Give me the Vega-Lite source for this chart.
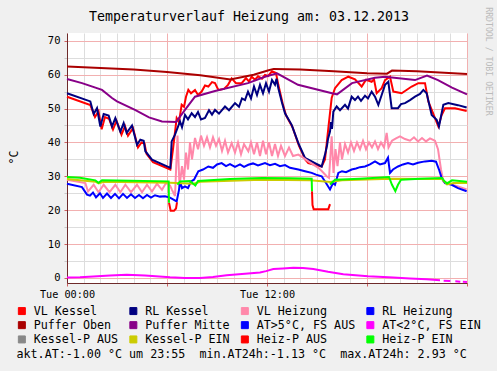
{
"$schema": "https://vega.github.io/schema/vega-lite/v6.json",
"width": 400, "height": 250,
"autosize": {"type": "none"},
"padding": {"left": 67, "top": 33, "right": 30, "bottom": 88},
"background": "#f0f0f0",
"view": {"fill": "white", "stroke": null},
"title": {"text": "Temperaturverlauf Heizung am: 03.12.2013", "font": "DejaVu Sans Mono", "fontSize": 13.3, "fontWeight": "normal", "color": "black", "anchor": "middle", "frame": "group", "dx": -18, "dy": 40.3, "offset": 9.5, "baseline": "bottom"},
"layer": [
{
"data": {"values": [
{"s":"VL Kessel","g":"a","h":0,"v":53.5},{"s":"VL Kessel","g":"a","h":1.4,"v":51.0},{"s":"VL Kessel","g":"a","h":1.68,"v":47.5},{"s":"VL Kessel","g":"a","h":1.89,"v":49.2},{"s":"VL Kessel","g":"a","h":2.08,"v":43.9},{"s":"VL Kessel","g":"a","h":2.28,"v":47.5},{"s":"VL Kessel","g":"a","h":2.52,"v":47.0},{"s":"VL Kessel","g":"a","h":2.76,"v":43.8},{"s":"VL Kessel","g":"a","h":2.97,"v":46.4},{"s":"VL Kessel","g":"a","h":3.27,"v":42.3},{"s":"VL Kessel","g":"a","h":3.48,"v":44.8},{"s":"VL Kessel","g":"a","h":3.66,"v":42.0},{"s":"VL Kessel","g":"a","h":3.96,"v":44.2},{"s":"VL Kessel","g":"a","h":4.26,"v":38.5},{"s":"VL Kessel","g":"a","h":4.47,"v":40.0},{"s":"VL Kessel","g":"a","h":4.65,"v":39.7},{"s":"VL Kessel","g":"a","h":4.77,"v":36.6},{"s":"VL Kessel","g":"a","h":5.16,"v":34.2},{"s":"VL Kessel","g":"a","h":6.2,"v":32.0},{"s":"VL Kessel","g":"a","h":6.36,"v":38.0},{"s":"VL Kessel","g":"a","h":6.58,"v":47.2},{"s":"VL Kessel","g":"a","h":6.72,"v":46.0},{"s":"VL Kessel","g":"a","h":6.88,"v":51.1},{"s":"VL Kessel","g":"a","h":7.02,"v":50.5},{"s":"VL Kessel","g":"a","h":7.14,"v":53.5},{"s":"VL Kessel","g":"a","h":7.28,"v":55.5},{"s":"VL Kessel","g":"a","h":7.44,"v":54.5},{"s":"VL Kessel","g":"a","h":7.68,"v":55.5},{"s":"VL Kessel","g":"a","h":7.86,"v":54.0},{"s":"VL Kessel","g":"a","h":8.08,"v":55.0},{"s":"VL Kessel","g":"a","h":8.28,"v":56.8},{"s":"VL Kessel","g":"a","h":8.48,"v":56.5},{"s":"VL Kessel","g":"a","h":8.7,"v":57.8},{"s":"VL Kessel","g":"a","h":8.88,"v":57.5},{"s":"VL Kessel","g":"a","h":9.08,"v":55.5},{"s":"VL Kessel","g":"a","h":9.42,"v":55.8},{"s":"VL Kessel","g":"a","h":9.66,"v":57.0},{"s":"VL Kessel","g":"a","h":9.88,"v":58.9},{"s":"VL Kessel","g":"a","h":10.14,"v":57.5},{"s":"VL Kessel","g":"a","h":10.48,"v":57.5},{"s":"VL Kessel","g":"a","h":10.74,"v":59.0},{"s":"VL Kessel","g":"a","h":10.92,"v":58.0},{"s":"VL Kessel","g":"a","h":11.08,"v":59.4},{"s":"VL Kessel","g":"a","h":11.28,"v":58.5},{"s":"VL Kessel","g":"a","h":11.46,"v":59.5},{"s":"VL Kessel","g":"a","h":11.7,"v":58.8},{"s":"VL Kessel","g":"a","h":11.88,"v":59.9},{"s":"VL Kessel","g":"a","h":12.06,"v":59.6},{"s":"VL Kessel","g":"a","h":12.3,"v":61.0},{"s":"VL Kessel","g":"a","h":12.54,"v":60.5},{"s":"VL Kessel","g":"a","h":12.68,"v":57.0},{"s":"VL Kessel","g":"a","h":12.94,"v":51.5},{"s":"VL Kessel","g":"a","h":13.14,"v":48.0},{"s":"VL Kessel","g":"a","h":13.53,"v":44.5},{"s":"VL Kessel","g":"a","h":13.92,"v":39.0},{"s":"VL Kessel","g":"a","h":14.31,"v":34.8},{"s":"VL Kessel","g":"a","h":14.48,"v":33.9},{"s":"VL Kessel","g":"a","h":15.28,"v":32.9},{"s":"VL Kessel","g":"a","h":15.48,"v":35.0},{"s":"VL Kessel","g":"a","h":15.68,"v":44.2},{"s":"VL Kessel","g":"a","h":15.88,"v":53.1},{"s":"VL Kessel","g":"a","h":16.08,"v":56.0},{"s":"VL Kessel","g":"a","h":16.48,"v":58.4},{"s":"VL Kessel","g":"a","h":16.88,"v":59.4},{"s":"VL Kessel","g":"a","h":17.28,"v":58.6},{"s":"VL Kessel","g":"a","h":17.68,"v":56.5},{"s":"VL Kessel","g":"a","h":17.94,"v":58.5},{"s":"VL Kessel","g":"a","h":18.28,"v":57.9},{"s":"VL Kessel","g":"a","h":18.42,"v":58.6},{"s":"VL Kessel","g":"a","h":18.58,"v":54.5},{"s":"VL Kessel","g":"a","h":18.88,"v":56.0},{"s":"VL Kessel","g":"a","h":19.08,"v":58.4},{"s":"VL Kessel","g":"a","h":19.38,"v":59.4},{"s":"VL Kessel","g":"a","h":19.58,"v":55.0},{"s":"VL Kessel","g":"a","h":20.08,"v":54.5},{"s":"VL Kessel","g":"a","h":20.68,"v":56.5},{"s":"VL Kessel","g":"a","h":21.08,"v":57.5},{"s":"VL Kessel","g":"a","h":21.48,"v":57.5},{"s":"VL Kessel","g":"a","h":21.68,"v":52.1},{"s":"VL Kessel","g":"a","h":22.08,"v":47.2},{"s":"VL Kessel","g":"a","h":22.28,"v":44.7},{"s":"VL Kessel","g":"a","h":22.48,"v":48.1},{"s":"VL Kessel","g":"a","h":22.68,"v":50.1},{"s":"VL Kessel","g":"a","h":23.28,"v":50.1},{"s":"VL Kessel","g":"a","h":23.98,"v":49.3},
{"s":"RL Kessel","g":"a","h":0,"v":54.5},{"s":"RL Kessel","g":"a","h":1.4,"v":52.1},{"s":"RL Kessel","g":"a","h":1.6,"v":48.4},{"s":"RL Kessel","g":"a","h":1.8,"v":50.1},{"s":"RL Kessel","g":"a","h":2.0,"v":44.7},{"s":"RL Kessel","g":"a","h":2.2,"v":48.4},{"s":"RL Kessel","g":"a","h":2.5,"v":47.9},{"s":"RL Kessel","g":"a","h":2.7,"v":44.7},{"s":"RL Kessel","g":"a","h":2.9,"v":47.2},{"s":"RL Kessel","g":"a","h":3.2,"v":43.2},{"s":"RL Kessel","g":"a","h":3.4,"v":45.7},{"s":"RL Kessel","g":"a","h":3.58,"v":42.8},{"s":"RL Kessel","g":"a","h":3.9,"v":45.0},{"s":"RL Kessel","g":"a","h":4.2,"v":39.3},{"s":"RL Kessel","g":"a","h":4.4,"v":40.8},{"s":"RL Kessel","g":"a","h":4.6,"v":40.5},{"s":"RL Kessel","g":"a","h":4.7,"v":37.4},{"s":"RL Kessel","g":"a","h":5.1,"v":34.9},{"s":"RL Kessel","g":"a","h":6.2,"v":32.5},{"s":"RL Kessel","g":"a","h":6.28,"v":40.3},{"s":"RL Kessel","g":"a","h":6.48,"v":42.3},{"s":"RL Kessel","g":"a","h":6.78,"v":46.2},{"s":"RL Kessel","g":"a","h":6.9,"v":44.5},{"s":"RL Kessel","g":"a","h":7.08,"v":48.1},{"s":"RL Kessel","g":"a","h":7.26,"v":46.8},{"s":"RL Kessel","g":"a","h":7.48,"v":48.6},{"s":"RL Kessel","g":"a","h":7.68,"v":47.5},{"s":"RL Kessel","g":"a","h":7.86,"v":49.0},{"s":"RL Kessel","g":"a","h":8.04,"v":46.8},{"s":"RL Kessel","g":"a","h":8.28,"v":47.2},{"s":"RL Kessel","g":"a","h":8.52,"v":49.5},{"s":"RL Kessel","g":"a","h":8.7,"v":48.2},{"s":"RL Kessel","g":"a","h":8.88,"v":49.6},{"s":"RL Kessel","g":"a","h":9.12,"v":48.5},{"s":"RL Kessel","g":"a","h":9.48,"v":50.6},{"s":"RL Kessel","g":"a","h":9.72,"v":49.5},{"s":"RL Kessel","g":"a","h":10.08,"v":51.6},{"s":"RL Kessel","g":"a","h":10.32,"v":50.5},{"s":"RL Kessel","g":"a","h":10.5,"v":53.0},{"s":"RL Kessel","g":"a","h":10.68,"v":52.5},{"s":"RL Kessel","g":"a","h":10.86,"v":55.0},{"s":"RL Kessel","g":"a","h":11.04,"v":53.0},{"s":"RL Kessel","g":"a","h":11.22,"v":56.5},{"s":"RL Kessel","g":"a","h":11.4,"v":54.0},{"s":"RL Kessel","g":"a","h":11.58,"v":57.0},{"s":"RL Kessel","g":"a","h":11.76,"v":54.5},{"s":"RL Kessel","g":"a","h":11.94,"v":57.5},{"s":"RL Kessel","g":"a","h":12.12,"v":55.0},{"s":"RL Kessel","g":"a","h":12.3,"v":58.4},{"s":"RL Kessel","g":"a","h":12.48,"v":57.0},{"s":"RL Kessel","g":"a","h":12.57,"v":58.8},{"s":"RL Kessel","g":"a","h":12.68,"v":56.0},{"s":"RL Kessel","g":"a","h":12.88,"v":52.1},{"s":"RL Kessel","g":"a","h":13.08,"v":48.6},{"s":"RL Kessel","g":"a","h":13.48,"v":45.2},{"s":"RL Kessel","g":"a","h":13.88,"v":39.8},{"s":"RL Kessel","g":"a","h":14.28,"v":35.4},{"s":"RL Kessel","g":"a","h":14.88,"v":33.9},{"s":"RL Kessel","g":"a","h":15.28,"v":32.9},{"s":"RL Kessel","g":"a","h":15.48,"v":36.4},{"s":"RL Kessel","g":"a","h":15.6,"v":39.0},{"s":"RL Kessel","g":"a","h":15.66,"v":41.0},{"s":"RL Kessel","g":"a","h":15.78,"v":43.2},{"s":"RL Kessel","g":"a","h":15.84,"v":46.0},{"s":"RL Kessel","g":"a","h":15.9,"v":44.0},{"s":"RL Kessel","g":"a","h":15.98,"v":49.1},{"s":"RL Kessel","g":"a","h":16.18,"v":50.6},{"s":"RL Kessel","g":"a","h":16.38,"v":49.5},{"s":"RL Kessel","g":"a","h":16.68,"v":51.1},{"s":"RL Kessel","g":"a","h":16.86,"v":50.0},{"s":"RL Kessel","g":"a","h":17.08,"v":53.5},{"s":"RL Kessel","g":"a","h":17.28,"v":52.5},{"s":"RL Kessel","g":"a","h":17.46,"v":53.5},{"s":"RL Kessel","g":"a","h":17.64,"v":52.3},{"s":"RL Kessel","g":"a","h":17.88,"v":53.8},{"s":"RL Kessel","g":"a","h":18.06,"v":53.0},{"s":"RL Kessel","g":"a","h":18.28,"v":55.0},{"s":"RL Kessel","g":"a","h":18.48,"v":53.5},{"s":"RL Kessel","g":"a","h":18.68,"v":51.1},{"s":"RL Kessel","g":"a","h":18.88,"v":54.0},{"s":"RL Kessel","g":"a","h":19.08,"v":57.0},{"s":"RL Kessel","g":"a","h":19.28,"v":57.9},{"s":"RL Kessel","g":"a","h":19.48,"v":50.1},{"s":"RL Kessel","g":"a","h":19.86,"v":50.1},{"s":"RL Kessel","g":"a","h":20.04,"v":51.3},{"s":"RL Kessel","g":"a","h":20.28,"v":51.6},{"s":"RL Kessel","g":"a","h":20.58,"v":52.5},{"s":"RL Kessel","g":"a","h":20.88,"v":53.5},{"s":"RL Kessel","g":"a","h":21.18,"v":54.3},{"s":"RL Kessel","g":"a","h":21.38,"v":55.5},{"s":"RL Kessel","g":"a","h":21.58,"v":54.5},{"s":"RL Kessel","g":"a","h":21.88,"v":48.1},{"s":"RL Kessel","g":"a","h":22.18,"v":46.7},{"s":"RL Kessel","g":"a","h":22.32,"v":44.7},{"s":"RL Kessel","g":"a","h":22.58,"v":51.1},{"s":"RL Kessel","g":"a","h":22.88,"v":51.6},{"s":"RL Kessel","g":"a","h":23.46,"v":51.0},{"s":"RL Kessel","g":"a","h":23.98,"v":50.3},
{"s":"VL Heizung","g":"a","h":0,"v":29.0},{"s":"VL Heizung","g":"a","h":1.1,"v":28.0},{"s":"VL Heizung","g":"a","h":1.26,"v":25.5},{"s":"VL Heizung","g":"a","h":1.6,"v":27.5},{"s":"VL Heizung","g":"a","h":1.89,"v":25.3},{"s":"VL Heizung","g":"a","h":2.2,"v":27.5},{"s":"VL Heizung","g":"a","h":2.55,"v":25.3},{"s":"VL Heizung","g":"a","h":2.9,"v":27.5},{"s":"VL Heizung","g":"a","h":3.2,"v":25.3},{"s":"VL Heizung","g":"a","h":3.5,"v":27.5},{"s":"VL Heizung","g":"a","h":3.84,"v":25.3},{"s":"VL Heizung","g":"a","h":4.2,"v":27.5},{"s":"VL Heizung","g":"a","h":4.5,"v":25.3},{"s":"VL Heizung","g":"a","h":4.8,"v":27.5},{"s":"VL Heizung","g":"a","h":5.1,"v":25.5},{"s":"VL Heizung","g":"a","h":5.4,"v":27.8},{"s":"VL Heizung","g":"a","h":5.7,"v":26.0},{"s":"VL Heizung","g":"a","h":5.94,"v":28.0},{"s":"VL Heizung","g":"a","h":6.18,"v":27.3},{"s":"VL Heizung","g":"a","h":6.3,"v":26.0},{"s":"VL Heizung","g":"a","h":6.48,"v":24.2},{"s":"VL Heizung","g":"a","h":6.63,"v":42.0},{"s":"VL Heizung","g":"a","h":6.75,"v":27.0},{"s":"VL Heizung","g":"a","h":6.9,"v":33.0},{"s":"VL Heizung","g":"a","h":7.02,"v":29.0},{"s":"VL Heizung","g":"a","h":7.14,"v":37.0},{"s":"VL Heizung","g":"a","h":7.26,"v":32.0},{"s":"VL Heizung","g":"a","h":7.38,"v":40.0},{"s":"VL Heizung","g":"a","h":7.5,"v":35.0},{"s":"VL Heizung","g":"a","h":7.68,"v":41.3},{"s":"VL Heizung","g":"a","h":7.86,"v":38.0},{"s":"VL Heizung","g":"a","h":8.04,"v":42.0},{"s":"VL Heizung","g":"a","h":8.22,"v":39.0},{"s":"VL Heizung","g":"a","h":8.4,"v":41.5},{"s":"VL Heizung","g":"a","h":8.58,"v":38.5},{"s":"VL Heizung","g":"a","h":8.76,"v":41.5},{"s":"VL Heizung","g":"a","h":8.94,"v":39.0},{"s":"VL Heizung","g":"a","h":9.12,"v":41.0},{"s":"VL Heizung","g":"a","h":9.3,"v":37.5},{"s":"VL Heizung","g":"a","h":9.48,"v":40.5},{"s":"VL Heizung","g":"a","h":9.66,"v":37.0},{"s":"VL Heizung","g":"a","h":9.88,"v":39.8},{"s":"VL Heizung","g":"a","h":10.08,"v":37.0},{"s":"VL Heizung","g":"a","h":10.26,"v":40.0},{"s":"VL Heizung","g":"a","h":10.44,"v":36.5},{"s":"VL Heizung","g":"a","h":10.62,"v":39.5},{"s":"VL Heizung","g":"a","h":10.88,"v":37.4},{"s":"VL Heizung","g":"a","h":11.04,"v":40.0},{"s":"VL Heizung","g":"a","h":11.22,"v":36.5},{"s":"VL Heizung","g":"a","h":11.4,"v":40.0},{"s":"VL Heizung","g":"a","h":11.58,"v":36.0},{"s":"VL Heizung","g":"a","h":11.76,"v":40.5},{"s":"VL Heizung","g":"a","h":11.94,"v":36.5},{"s":"VL Heizung","g":"a","h":12.12,"v":40.0},{"s":"VL Heizung","g":"a","h":12.3,"v":36.0},{"s":"VL Heizung","g":"a","h":12.48,"v":39.5},{"s":"VL Heizung","g":"a","h":12.66,"v":36.0},{"s":"VL Heizung","g":"a","h":12.84,"v":39.0},{"s":"VL Heizung","g":"a","h":13.08,"v":36.0},{"s":"VL Heizung","g":"a","h":13.32,"v":38.5},{"s":"VL Heizung","g":"a","h":13.56,"v":36.0},{"s":"VL Heizung","g":"a","h":13.88,"v":36.4},{"s":"VL Heizung","g":"a","h":14.16,"v":35.5},{"s":"VL Heizung","g":"a","h":14.48,"v":34.4},{"s":"VL Heizung","g":"a","h":14.76,"v":33.5},{"s":"VL Heizung","g":"a","h":15.08,"v":32.5},{"s":"VL Heizung","g":"a","h":15.3,"v":31.5},{"s":"VL Heizung","g":"a","h":15.58,"v":30.0},{"s":"VL Heizung","g":"a","h":15.72,"v":29.5},{"s":"VL Heizung","g":"a","h":15.88,"v":41.8},{"s":"VL Heizung","g":"a","h":15.99,"v":31.0},{"s":"VL Heizung","g":"a","h":16.11,"v":38.0},{"s":"VL Heizung","g":"a","h":16.23,"v":33.0},{"s":"VL Heizung","g":"a","h":16.38,"v":40.0},{"s":"VL Heizung","g":"a","h":16.5,"v":35.0},{"s":"VL Heizung","g":"a","h":16.68,"v":39.5},{"s":"VL Heizung","g":"a","h":16.86,"v":37.0},{"s":"VL Heizung","g":"a","h":17.04,"v":40.0},{"s":"VL Heizung","g":"a","h":17.22,"v":37.5},{"s":"VL Heizung","g":"a","h":17.4,"v":40.0},{"s":"VL Heizung","g":"a","h":17.58,"v":38.0},{"s":"VL Heizung","g":"a","h":17.76,"v":40.5},{"s":"VL Heizung","g":"a","h":17.94,"v":38.0},{"s":"VL Heizung","g":"a","h":18.12,"v":40.0},{"s":"VL Heizung","g":"a","h":18.3,"v":38.5},{"s":"VL Heizung","g":"a","h":18.48,"v":40.3},{"s":"VL Heizung","g":"a","h":18.66,"v":38.0},{"s":"VL Heizung","g":"a","h":18.84,"v":40.0},{"s":"VL Heizung","g":"a","h":19.02,"v":38.5},{"s":"VL Heizung","g":"a","h":19.18,"v":42.8},{"s":"VL Heizung","g":"a","h":19.29,"v":38.5},{"s":"VL Heizung","g":"a","h":19.5,"v":40.5},{"s":"VL Heizung","g":"a","h":19.74,"v":41.2},{"s":"VL Heizung","g":"a","h":19.98,"v":41.8},{"s":"VL Heizung","g":"a","h":20.28,"v":41.0},{"s":"VL Heizung","g":"a","h":20.58,"v":40.5},{"s":"VL Heizung","g":"a","h":20.82,"v":41.5},{"s":"VL Heizung","g":"a","h":21.06,"v":40.3},{"s":"VL Heizung","g":"a","h":21.3,"v":41.3},{"s":"VL Heizung","g":"a","h":21.54,"v":40.3},{"s":"VL Heizung","g":"a","h":21.78,"v":41.2},{"s":"VL Heizung","g":"a","h":22.08,"v":40.5},{"s":"VL Heizung","g":"a","h":22.26,"v":38.0},{"s":"VL Heizung","g":"a","h":22.44,"v":32.0},{"s":"VL Heizung","g":"a","h":22.58,"v":28.5},{"s":"VL Heizung","g":"a","h":23.08,"v":27.6},{"s":"VL Heizung","g":"a","h":23.46,"v":27.0},{"s":"VL Heizung","g":"a","h":23.98,"v":26.1},
{"s":"RL Heizung","g":"a","h":0,"v":27.8},{"s":"RL Heizung","g":"a","h":0.9,"v":26.8},{"s":"RL Heizung","g":"a","h":1.2,"v":24.6},{"s":"RL Heizung","g":"a","h":1.38,"v":24.3},{"s":"RL Heizung","g":"a","h":1.56,"v":25.2},{"s":"RL Heizung","g":"a","h":1.74,"v":23.8},{"s":"RL Heizung","g":"a","h":1.98,"v":25.0},{"s":"RL Heizung","g":"a","h":2.16,"v":23.6},{"s":"RL Heizung","g":"a","h":2.4,"v":24.9},{"s":"RL Heizung","g":"a","h":2.64,"v":23.6},{"s":"RL Heizung","g":"a","h":2.88,"v":24.8},{"s":"RL Heizung","g":"a","h":3.12,"v":23.5},{"s":"RL Heizung","g":"a","h":3.36,"v":24.8},{"s":"RL Heizung","g":"a","h":3.6,"v":23.6},{"s":"RL Heizung","g":"a","h":3.84,"v":24.7},{"s":"RL Heizung","g":"a","h":4.08,"v":23.6},{"s":"RL Heizung","g":"a","h":4.32,"v":24.5},{"s":"RL Heizung","g":"a","h":4.56,"v":23.5},{"s":"RL Heizung","g":"a","h":4.8,"v":24.5},{"s":"RL Heizung","g":"a","h":5.04,"v":23.7},{"s":"RL Heizung","g":"a","h":5.28,"v":24.4},{"s":"RL Heizung","g":"a","h":5.58,"v":24.0},{"s":"RL Heizung","g":"a","h":5.88,"v":24.1},{"s":"RL Heizung","g":"a","h":6.18,"v":23.7},{"s":"RL Heizung","g":"a","h":6.58,"v":22.6},{"s":"RL Heizung","g":"a","h":6.72,"v":26.0},{"s":"RL Heizung","g":"a","h":6.78,"v":28.5},{"s":"RL Heizung","g":"a","h":6.9,"v":26.5},{"s":"RL Heizung","g":"a","h":7.08,"v":27.0},{"s":"RL Heizung","g":"a","h":7.26,"v":26.5},{"s":"RL Heizung","g":"a","h":7.44,"v":28.5},{"s":"RL Heizung","g":"a","h":7.62,"v":29.0},{"s":"RL Heizung","g":"a","h":7.88,"v":31.5},{"s":"RL Heizung","g":"a","h":8.16,"v":32.0},{"s":"RL Heizung","g":"a","h":8.48,"v":32.9},{"s":"RL Heizung","g":"a","h":8.76,"v":32.5},{"s":"RL Heizung","g":"a","h":9.0,"v":33.5},{"s":"RL Heizung","g":"a","h":9.28,"v":33.9},{"s":"RL Heizung","g":"a","h":9.54,"v":33.0},{"s":"RL Heizung","g":"a","h":9.78,"v":33.6},{"s":"RL Heizung","g":"a","h":10.08,"v":32.8},{"s":"RL Heizung","g":"a","h":10.38,"v":33.5},{"s":"RL Heizung","g":"a","h":10.62,"v":32.8},{"s":"RL Heizung","g":"a","h":10.88,"v":33.4},{"s":"RL Heizung","g":"a","h":11.16,"v":33.8},{"s":"RL Heizung","g":"a","h":11.46,"v":33.2},{"s":"RL Heizung","g":"a","h":11.88,"v":33.9},{"s":"RL Heizung","g":"a","h":12.18,"v":33.3},{"s":"RL Heizung","g":"a","h":12.48,"v":33.7},{"s":"RL Heizung","g":"a","h":12.78,"v":33.0},{"s":"RL Heizung","g":"a","h":13.08,"v":33.3},{"s":"RL Heizung","g":"a","h":13.38,"v":32.5},{"s":"RL Heizung","g":"a","h":13.88,"v":32.0},{"s":"RL Heizung","g":"a","h":14.28,"v":31.5},{"s":"RL Heizung","g":"a","h":14.68,"v":31.0},{"s":"RL Heizung","g":"a","h":14.94,"v":30.5},{"s":"RL Heizung","g":"a","h":15.28,"v":30.0},{"s":"RL Heizung","g":"a","h":15.54,"v":28.0},{"s":"RL Heizung","g":"a","h":15.78,"v":26.1},{"s":"RL Heizung","g":"a","h":15.96,"v":28.0},{"s":"RL Heizung","g":"a","h":16.08,"v":27.5},{"s":"RL Heizung","g":"a","h":16.28,"v":31.0},{"s":"RL Heizung","g":"a","h":16.5,"v":31.5},{"s":"RL Heizung","g":"a","h":16.74,"v":31.2},{"s":"RL Heizung","g":"a","h":17.08,"v":32.0},{"s":"RL Heizung","g":"a","h":17.34,"v":32.3},{"s":"RL Heizung","g":"a","h":17.58,"v":32.7},{"s":"RL Heizung","g":"a","h":17.88,"v":32.9},{"s":"RL Heizung","g":"a","h":18.18,"v":33.5},{"s":"RL Heizung","g":"a","h":18.48,"v":34.4},{"s":"RL Heizung","g":"a","h":18.78,"v":33.5},{"s":"RL Heizung","g":"a","h":19.08,"v":33.9},{"s":"RL Heizung","g":"a","h":19.26,"v":35.5},{"s":"RL Heizung","g":"a","h":19.38,"v":31.0},{"s":"RL Heizung","g":"a","h":19.56,"v":32.0},{"s":"RL Heizung","g":"a","h":19.86,"v":32.9},{"s":"RL Heizung","g":"a","h":20.16,"v":33.5},{"s":"RL Heizung","g":"a","h":20.46,"v":33.9},{"s":"RL Heizung","g":"a","h":20.76,"v":33.5},{"s":"RL Heizung","g":"a","h":21.06,"v":34.0},{"s":"RL Heizung","g":"a","h":21.48,"v":34.4},{"s":"RL Heizung","g":"a","h":21.88,"v":34.6},{"s":"RL Heizung","g":"a","h":22.14,"v":34.3},{"s":"RL Heizung","g":"a","h":22.32,"v":32.0},{"s":"RL Heizung","g":"a","h":22.48,"v":29.5},{"s":"RL Heizung","g":"a","h":22.68,"v":28.0},{"s":"RL Heizung","g":"a","h":23.08,"v":27.5},{"s":"RL Heizung","g":"a","h":23.46,"v":26.5},{"s":"RL Heizung","g":"a","h":23.98,"v":25.6},
{"s":"Puffer Oben","g":"a","h":0,"v":62.4},{"s":"Puffer Oben","g":"a","h":2,"v":62.0},{"s":"Puffer Oben","g":"a","h":4,"v":61.5},{"s":"Puffer Oben","g":"a","h":6,"v":60.8},{"s":"Puffer Oben","g":"a","h":8,"v":59.8},{"s":"Puffer Oben","g":"a","h":9.8,"v":58.6},{"s":"Puffer Oben","g":"a","h":11.2,"v":60.0},{"s":"Puffer Oben","g":"a","h":12.1,"v":61.3},{"s":"Puffer Oben","g":"a","h":12.4,"v":61.7},{"s":"Puffer Oben","g":"a","h":14,"v":61.5},{"s":"Puffer Oben","g":"a","h":16,"v":61.0},{"s":"Puffer Oben","g":"a","h":18,"v":60.4},{"s":"Puffer Oben","g":"a","h":19.2,"v":60.3},{"s":"Puffer Oben","g":"a","h":19.5,"v":61.2},{"s":"Puffer Oben","g":"a","h":21,"v":61.0},{"s":"Puffer Oben","g":"a","h":24,"v":60.2},
{"s":"Puffer Mitte","g":"a","h":0,"v":58.7},{"s":"Puffer Mitte","g":"a","h":0.9,"v":57.5},{"s":"Puffer Mitte","g":"a","h":2.1,"v":55.5},{"s":"Puffer Mitte","g":"a","h":2.7,"v":53.1},{"s":"Puffer Mitte","g":"a","h":3.0,"v":52.1},{"s":"Puffer Mitte","g":"a","h":4.08,"v":49.6},{"s":"Puffer Mitte","g":"a","h":4.92,"v":47.4},{"s":"Puffer Mitte","g":"a","h":5.7,"v":46.2},{"s":"Puffer Mitte","g":"a","h":6.54,"v":46.0},{"s":"Puffer Mitte","g":"a","h":7.08,"v":49.6},{"s":"Puffer Mitte","g":"a","h":7.68,"v":53.5},{"s":"Puffer Mitte","g":"a","h":8.88,"v":55.2},{"s":"Puffer Mitte","g":"a","h":10.86,"v":57.5},{"s":"Puffer Mitte","g":"a","h":11.88,"v":59.4},{"s":"Puffer Mitte","g":"a","h":12.6,"v":60.4},{"s":"Puffer Mitte","g":"a","h":13.86,"v":57.0},{"s":"Puffer Mitte","g":"a","h":15.9,"v":54.5},{"s":"Puffer Mitte","g":"a","h":16.2,"v":54.2},{"s":"Puffer Mitte","g":"a","h":17.1,"v":57.5},{"s":"Puffer Mitte","g":"a","h":18.48,"v":59.1},{"s":"Puffer Mitte","g":"a","h":19.08,"v":59.4},{"s":"Puffer Mitte","g":"a","h":20.88,"v":58.4},{"s":"Puffer Mitte","g":"a","h":21.6,"v":59.7},{"s":"Puffer Mitte","g":"a","h":22.26,"v":58.4},{"s":"Puffer Mitte","g":"a","h":23.1,"v":56.2},{"s":"Puffer Mitte","g":"a","h":24,"v":54.2},
{"s":"AT<2°C, FS EIN","g":"a","h":0,"v":0.1},{"s":"AT<2°C, FS EIN","g":"a","h":0.78,"v":0.2},{"s":"AT<2°C, FS EIN","g":"a","h":1.58,"v":0.4},{"s":"AT<2°C, FS EIN","g":"a","h":2.58,"v":0.7},{"s":"AT<2°C, FS EIN","g":"a","h":3.58,"v":0.9},{"s":"AT<2°C, FS EIN","g":"a","h":4.68,"v":0.7},{"s":"AT<2°C, FS EIN","g":"a","h":6.18,"v":0.2},{"s":"AT<2°C, FS EIN","g":"a","h":7.08,"v":0.0},{"s":"AT<2°C, FS EIN","g":"a","h":7.98,"v":0.0},{"s":"AT<2°C, FS EIN","g":"a","h":8.76,"v":0.3},{"s":"AT<2°C, FS EIN","g":"a","h":9.58,"v":0.8},{"s":"AT<2°C, FS EIN","g":"a","h":10.68,"v":1.2},{"s":"AT<2°C, FS EIN","g":"a","h":11.58,"v":1.6},{"s":"AT<2°C, FS EIN","g":"a","h":11.94,"v":2.0},{"s":"AT<2°C, FS EIN","g":"a","h":12.38,"v":2.6},{"s":"AT<2°C, FS EIN","g":"a","h":12.96,"v":2.8},{"s":"AT<2°C, FS EIN","g":"a","h":13.58,"v":3.0},{"s":"AT<2°C, FS EIN","g":"a","h":14.16,"v":2.9},{"s":"AT<2°C, FS EIN","g":"a","h":14.78,"v":2.6},{"s":"AT<2°C, FS EIN","g":"a","h":15.66,"v":1.8},{"s":"AT<2°C, FS EIN","g":"a","h":16.58,"v":1.1},{"s":"AT<2°C, FS EIN","g":"a","h":18.06,"v":0.5},{"s":"AT<2°C, FS EIN","g":"a","h":19.58,"v":0.1},{"s":"AT<2°C, FS EIN","g":"a","h":20.58,"v":-0.2},{"s":"AT<2°C, FS EIN","g":"a","h":21.58,"v":-0.4},{"s":"AT<2°C, FS EIN","g":"a","h":22.38,"v":-0.7},
{"s":"AT<2°C, FS EIN","g":"b","h":22.6,"v":-0.8},{"s":"AT<2°C, FS EIN","g":"b","h":23.0,"v":-0.9},{"s":"AT<2°C, FS EIN","g":"c","h":23.3,"v":-1.0},{"s":"AT<2°C, FS EIN","g":"c","h":23.6,"v":-1.1},{"s":"AT<2°C, FS EIN","g":"d","h":23.75,"v":-1.1},{"s":"AT<2°C, FS EIN","g":"d","h":24,"v":-1.2},
{"s":"Kessel-P EIN","g":"a","h":0,"v":29.2},{"s":"Kessel-P EIN","g":"a","h":1.7,"v":28.4},{"s":"Kessel-P EIN","g":"a","h":1.9,"v":27.9},{"s":"Kessel-P EIN","g":"a","h":2.2,"v":28.4},{"s":"Kessel-P EIN","g":"a","h":6.2,"v":28.1},{"s":"Kessel-P EIN","g":"a","h":7.6,"v":27.8},{"s":"Kessel-P EIN","g":"a","h":8.0,"v":28.4},{"s":"Kessel-P EIN","g":"a","h":11.7,"v":29.0},{"s":"Kessel-P EIN","g":"a","h":14.6,"v":28.8},{"s":"Kessel-P EIN","g":"a","h":15.8,"v":28.3},{"s":"Kessel-P EIN","g":"a","h":16.5,"v":28.8},{"s":"Kessel-P EIN","g":"a","h":19.4,"v":29.3},{"s":"Kessel-P EIN","g":"a","h":22.5,"v":29.2},{"s":"Kessel-P EIN","g":"a","h":22.8,"v":27.6},{"s":"Kessel-P EIN","g":"a","h":23.2,"v":28.0},{"s":"Kessel-P EIN","g":"a","h":24,"v":28.0},
{"s":"Heiz-P AUS","g":"a","h":6.12,"v":22.2},{"s":"Heiz-P AUS","g":"a","h":6.17,"v":21.0},{"s":"Heiz-P AUS","g":"a","h":6.22,"v":19.8},{"s":"Heiz-P AUS","g":"a","h":6.42,"v":19.8},{"s":"Heiz-P AUS","g":"a","h":6.54,"v":20.5},{"s":"Heiz-P AUS","g":"a","h":6.6,"v":22.3},
{"s":"Heiz-P AUS","g":"b","h":14.7,"v":25.6},{"s":"Heiz-P AUS","g":"b","h":14.73,"v":21.5},{"s":"Heiz-P AUS","g":"b","h":14.8,"v":20.3},{"s":"Heiz-P AUS","g":"b","h":15.68,"v":20.3},{"s":"Heiz-P AUS","g":"b","h":15.78,"v":21.8},
{"s":"Heiz-P EIN","g":"a","h":0,"v":29.8},{"s":"Heiz-P EIN","g":"a","h":0.78,"v":29.6},{"s":"Heiz-P EIN","g":"a","h":1.7,"v":28.8},{"s":"Heiz-P EIN","g":"a","h":1.89,"v":28.1},{"s":"Heiz-P EIN","g":"a","h":2.1,"v":28.8},{"s":"Heiz-P EIN","g":"a","h":3.8,"v":28.7},{"s":"Heiz-P EIN","g":"a","h":6.1,"v":28.5},{"s":"Heiz-P EIN","g":"a","h":6.12,"v":22.2},
{"s":"Heiz-P EIN","g":"b","h":6.63,"v":27.5},{"s":"Heiz-P EIN","g":"b","h":6.78,"v":28.5},{"s":"Heiz-P EIN","g":"b","h":7.38,"v":28.6},{"s":"Heiz-P EIN","g":"b","h":7.7,"v":27.3},{"s":"Heiz-P EIN","g":"b","h":7.86,"v":28.6},{"s":"Heiz-P EIN","g":"b","h":9.78,"v":29.2},{"s":"Heiz-P EIN","g":"b","h":11.7,"v":29.5},{"s":"Heiz-P EIN","g":"b","h":13.38,"v":29.4},{"s":"Heiz-P EIN","g":"b","h":14.68,"v":29.3},{"s":"Heiz-P EIN","g":"b","h":14.7,"v":25.6},
{"s":"Heiz-P EIN","g":"c","h":15.78,"v":27.6},{"s":"Heiz-P EIN","g":"c","h":16.08,"v":29.0},{"s":"Heiz-P EIN","g":"c","h":17.58,"v":29.3},{"s":"Heiz-P EIN","g":"c","h":19.32,"v":29.8},{"s":"Heiz-P EIN","g":"c","h":19.5,"v":27.5},{"s":"Heiz-P EIN","g":"c","h":19.7,"v":25.6},{"s":"Heiz-P EIN","g":"c","h":19.86,"v":27.5},{"s":"Heiz-P EIN","g":"c","h":20.04,"v":29.0},{"s":"Heiz-P EIN","g":"c","h":21.18,"v":29.3},{"s":"Heiz-P EIN","g":"c","h":22.5,"v":29.5},{"s":"Heiz-P EIN","g":"c","h":22.65,"v":28.5},{"s":"Heiz-P EIN","g":"c","h":22.8,"v":27.9},{"s":"Heiz-P EIN","g":"c","h":23.1,"v":28.8},{"s":"Heiz-P EIN","g":"c","h":24,"v":28.4}
]},
"mark": {"type": "line", "strokeWidth": 2, "strokeJoin": "miter", "strokeCap": "butt"},
"encoding": {
"x": {"field": "h", "type": "quantitative", "scale": {"domain": [0, 24], "nice": false, "zero": false},
 "axis": {"values": [0,1,2,3,4,5,6,7,8,9,10,11,12,13,14,15,16,17,18,19,20,21,22,23,24],
  "grid": true, "gridWidth": 1,
  "gridColor": {"condition": {"test": "datum.value % 6 === 0", "value": "#f2b0b0"}, "value": "#dddddd"},
  "labelExpr": "datum.value === 0 ? 'Tue 00:00' : (datum.value === 12 ? 'Tue 12:00' : '')",
  "labelFont": "DejaVu Sans Mono", "labelFontSize": 10.2, "labelColor": "black", "labelPadding": 3, "labelAngle": 0, "labelOverlap": false, "labelFlush": false,
  "tickSize": 3, "tickColor": {"condition": {"test": "datum.value % 6 === 0", "value": "#d06060"}, "value": "transparent"},
  "domainColor": "#6e2a2a", "domainWidth": 1,
  "title": "akt.AT:-1.00 °C um 23:55\u00a0\u00a0min.AT24h:-1.13 °C\u00a0\u00a0max.AT24h: 2.93 °C",
  "titleFont": "DejaVu Sans Mono", "titleFontSize": 11.7, "titleFontWeight": "normal", "titleColor": "black",
  "titleX": -51, "titleY": 70, "titleAlign": "left", "titleBaseline": "middle"}},
"y": {"field": "v", "type": "quantitative", "scale": {"domain": [-1.5, 72.3], "nice": false, "zero": false},
 "axis": {"values": [0,5,10,15,20,25,30,35,40,45,50,55,60,65,70],
  "grid": true, "gridWidth": 1,
  "gridColor": {"condition": {"test": "datum.value % 10 === 0", "value": "#f2b0b0"}, "value": "#dddddd"},
  "labelExpr": "datum.value % 10 === 0 ? datum.label : ''",
  "labelFont": "DejaVu Sans Mono", "labelFontSize": 10.5, "labelColor": "black", "labelPadding": 4,
  "tickSize": 3, "tickColor": {"condition": {"test": "datum.value % 10 === 0", "value": "#d06060"}, "value": "#c8c8c8"},
  "domainColor": "#6e2a2a", "domainWidth": 1,
  "title": "°C", "titleFont": "DejaVu Sans Mono", "titleFontSize": 11.7, "titleFontWeight": "normal", "titleColor": "black",
  "titleX": -54, "titleY": 124, "titleAlign": "center", "titleBaseline": "middle"}},
"color": {"field": "s", "type": "nominal",
 "scale": {"domain": ["VL Kessel","RL Kessel","VL Heizung","RL Heizung","Puffer Oben","Puffer Mitte","AT>5°C, FS AUS","AT<2°C, FS EIN","Kessel-P AUS","Kessel-P EIN","Heiz-P AUS","Heiz-P EIN"],
  "range": ["#ff0000","#000080","#ff88aa","#0000ff","#aa0000","#880088","#0000ff","#ff00ff","#888888","#cccc00","#ff0000","#00ff00"]},
 "legend": {"orient": "none", "legendX": -51, "legendY": 272, "columns": 4, "direction": "horizontal", "title": null,
  "symbolType": "square", "symbolSize": 49, "labelFont": "DejaVu Sans Mono", "labelFontSize": 11.7, "labelColor": "black",
  "labelOffset": 6, "columnPadding": 8.5, "rowPadding": 1.3, "padding": 0, "labelLimit": 300,
  "encode": {"symbols": {"update": {"fill": {"scale": "color", "field": "value"}, "stroke": {"value": "black"}, "strokeWidth": {"value": 1}, "opacity": {"value": 1}, "fillOpacity": {"value": 1}}}}}},
"detail": {"field": "g"},
"order": {"value": null}
}
},
{
"data": {"values": []},
"mark": {"type": "point", "opacity": 0},
"encoding": {
"y": {"field": "v", "type": "quantitative", "scale": {"domain": [-1.5, 72.3], "nice": false, "zero": false},
 "axis": {"orient": "right", "labels": false, "ticks": false, "domain": false, "grid": false,
  "title": "RRDTOOL / TOBI OETIKER", "titleFont": "DejaVu Sans Mono", "titleFontSize": 8.2, "titleFontWeight": "normal", "titleColor": "#bbbbbb",
  "titleAngle": 90, "titleX": 20.5, "titleY": -26.3, "titleAlign": "left", "titleBaseline": "middle"}}
}
}
],
"resolve": {"axis": {"y": "independent"}}
}
